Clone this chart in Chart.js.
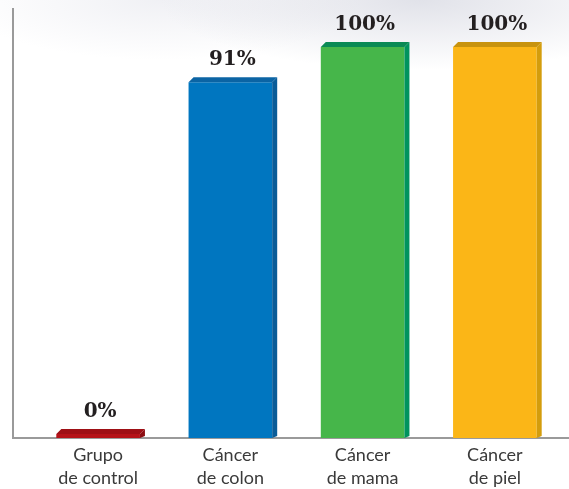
<!DOCTYPE html>
<html>
<head>
<meta charset="utf-8">
<script src="https://cdn.jsdelivr.net/npm/chart.js@4/dist/chart.umd.min.js"></script>
<style>
  html, body { margin: 0; padding: 0; background: #fff; }
  #wrap {
    width: 569px; height: 489px; position: relative;
    background:
      radial-gradient(ellipse 260px 70px at 420px 0px, rgba(200,202,215,0.55), rgba(255,255,255,0) 100%),
      radial-gradient(ellipse 200px 60px at 160px 0px, rgba(225,226,234,0.5), rgba(255,255,255,0) 100%),
      #fff;
  }
</style>
</head>
<body>
<div id="wrap"><canvas id="chart"></canvas></div>
<script>
// ===================================
// DATOS
// ===================================
const categorias = [["Grupo", "de control"], ["Cáncer", "de colon"], ["Cáncer", "de mama"], ["Cáncer", "de piel"]];
const valores = [0, 91, 100, 100];
const coloresFrente = ["#b51218", "#0076c0", "#46b64a", "#fbb617"];
const coloresLado = ["#8c0d12", "#0a5c98", "#00935e", "#d49d0c"];
const coloresTapa = ["#9e0f15", "#0b64a4", "#0a8a55", "#c8930e"];

const DEPTH = 5;

// plugin: cara lateral/superior 3D, ejes y etiquetas de porcentaje
const bar3d = {
    id: 'bar3d',
    beforeDraw(chart) {
        const ctx = chart.ctx;
        const area = chart.chartArea;
        ctx.save();
        ctx.strokeStyle = '#9a9a9a';
        ctx.lineWidth = 2;
        ctx.beginPath();
        ctx.moveTo(13, 8);
        ctx.lineTo(13, area.bottom);
        ctx.lineTo(chart.width, area.bottom);
        ctx.stroke();
        ctx.restore();
    },
    afterDatasetsDraw(chart) {
        const ctx = chart.ctx;
        const meta = chart.getDatasetMeta(0);
        ctx.save();
        meta.data.forEach((bar, i) => {
            const left = bar.x - bar.width / 2;
            const right = bar.x + bar.width / 2;
            const top = bar.y;
            const bottom = bar.base;
            // lado derecho
            ctx.fillStyle = coloresLado[i];
            ctx.beginPath();
            ctx.moveTo(right, top);
            ctx.lineTo(right + DEPTH, top - DEPTH);
            ctx.lineTo(right + DEPTH, bottom - 2);
            ctx.lineTo(right, bottom);
            ctx.closePath();
            ctx.fill();
            // tapa
            ctx.fillStyle = coloresTapa[i];
            ctx.beginPath();
            ctx.moveTo(left, top);
            ctx.lineTo(left + DEPTH, top - DEPTH);
            ctx.lineTo(right + DEPTH, top - DEPTH);
            ctx.lineTo(right, top);
            ctx.closePath();
            ctx.fill();
            // etiqueta
            ctx.fillStyle = '#231f20';
            ctx.font = 'bold 20px "DejaVu Serif", "Liberation Serif", serif';
            ctx.textAlign = 'center';
            ctx.textBaseline = 'alphabetic';
            ctx.fillText(valores[i] + '%', bar.x + 2, top - DEPTH - 12);
        });
        ctx.restore();
    }
};

const ctx = document.getElementById('chart').getContext('2d');
const chart = new Chart(ctx, {
    type: 'bar',
    data: {
        labels: categorias,
        datasets: [{
            data: valores,
            backgroundColor: coloresFrente,
            borderWidth: 0,
            minBarLength: 4,
            barPercentage: 0.68,
            categoryPercentage: 0.93
        }]
    },
    options: {
        responsive: true,
        maintainAspectRatio: false,
        animation: false,
        layout: { padding: { left: 32, right: 8, top: 8, bottom: -6 } },
        plugins: {
            legend: { display: false },
            tooltip: { enabled: false }
        },
        scales: {
            x: {
                grid: { display: false, drawTicks: false },
                border: { display: false },
                ticks: {
                    color: '#3a3a3a',
                    padding: 6,
                    font: { family: 'Lato, "Noto Sans", sans-serif', size: 18, lineHeight: 1.25 },
                    maxRotation: 0
                }
            },
            y: {
                display: false,
                min: 0,
                max: 110
            }
        }
    },
    plugins: [bar3d]
});
</script>
</body>
</html>
